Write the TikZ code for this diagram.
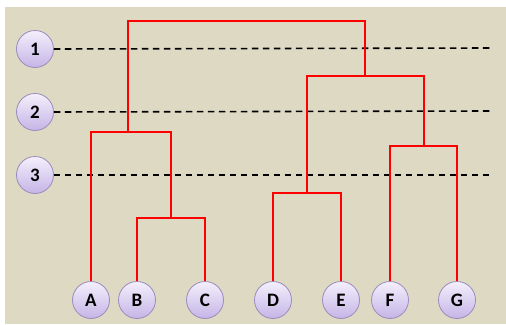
\documentclass[tikz,border=0pt]{standalone}
\usepackage{fontspec}
\setmainfont{Carlito}
\definecolor{bgtan}{HTML}{DDD9C3}
\definecolor{lavtop}{HTML}{F4F0FC}
\definecolor{lavbot}{HTML}{C4B4E6}
\definecolor{lavline}{HTML}{9C8CBC}
\tikzset{
  ball/.style={circle, draw=lavline, line width=0.8pt, top color=lavtop, bottom color=lavbot, minimum size=37pt, inner sep=0pt, font=\bfseries\fontsize{19}{19}\selectfont},
  link/.style={draw=red, line width=1.4pt},
  level/.style={draw=black, line width=1.6pt, dash pattern=on 6.5pt off 4.5pt}
}
\begin{document}
\begin{tikzpicture}[x=1pt,y=-1pt]
\useasboundingbox (0,0) rectangle (506,324);
\fill[white] (0,0) rectangle (506,324);
\fill[bgtan] (5,7) rectangle (506,324);
% level lines
\coordinate (e1) at (492,48);
\coordinate (e2) at (492,111);
\coordinate (e3) at (492,175);
\node[ball] (l1) at (35,49) {1};
\node[ball] (l2) at (35,112) {2};
\node[ball] (l3) at (35,175) {3};
\draw[level] (l1.east) -- (e1);
\draw[level] (l2.east) -- (e2);
\draw[level] (l3.east) -- (e3);
% leaves
\node[ball] (A) at (91,300) {A};
\node[ball] (B) at (137,300) {B};
\node[ball] (C) at (205,300) {C};
\node[ball] (D) at (273,300) {D};
\node[ball] (E) at (341,300) {E};
\node[ball] (F) at (390,300) {F};
\node[ball] (G) at (457,300) {G};
% merge points
\coordinate (bc) at (171,218);
\coordinate (abc) at (128,132);
\coordinate (de) at (307,193);
\coordinate (fg) at (424,146);
\coordinate (defg) at (365,76);
\coordinate (root) at (246,21);
% links
\draw[link] (B.north) |- (bc) -| (C.north);
\draw[link] (A.north) |- (abc) -| (bc);
\draw[link] (D.north) |- (de) -| (E.north);
\draw[link] (F.north) |- (fg) -| (G.north);
\draw[link] (de) |- (defg) -| (fg);
\draw[link] (abc) |- (root) -| (defg);
\end{tikzpicture}
\end{document}
